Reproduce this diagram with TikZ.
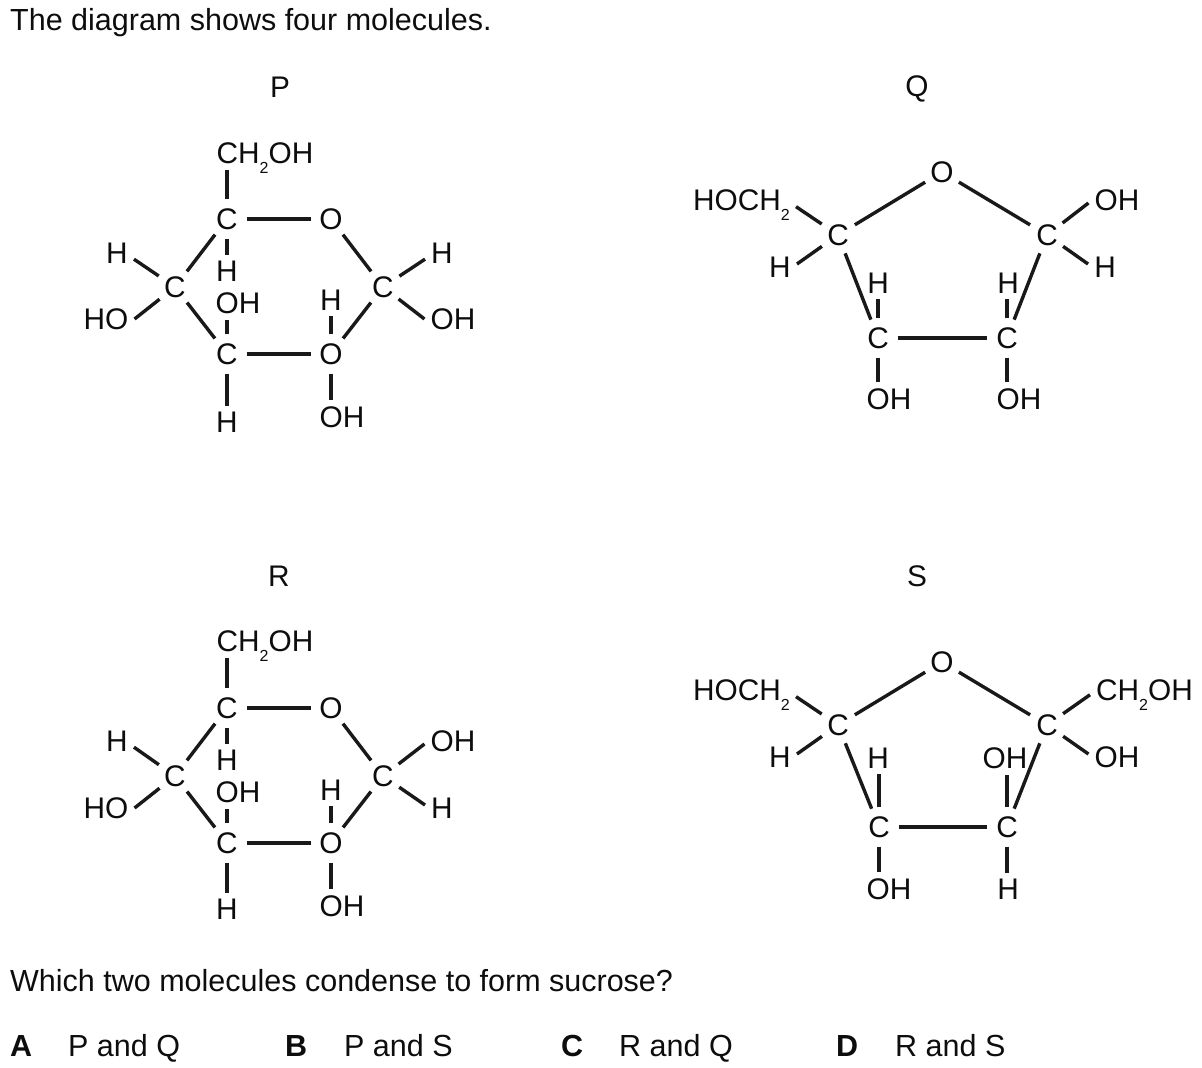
\documentclass[tikz,border=0pt]{standalone}
\usepackage{fontspec}
\setmainfont{Liberation Sans}
\newcommand{\bodyfont}{\fontsize{30.5}{36}\selectfont}
\newcommand{\chemfont}{\fontsize{29.8}{35}\selectfont}
\newcommand{\subtwo}{\smash{\raisebox{-10pt}{\fontsize{16}{18}\selectfont 2}}}
\tikzset{
  atom/.style={circle, inner sep=0pt, minimum size=39pt, font=\chemfont, text=black!95},
  lab/.style={inner sep=6pt, font=\chemfont, text=black!95},
  txt/.style={anchor=base west, inner sep=0pt, font=\bodyfont, text=black!95},
  bond/.style={line width=3.4pt, color=black!90}
}
\begin{document}
\begin{tikzpicture}[x=1pt, y=-1pt]
\useasboundingbox (0,0) rectangle (1202,1068);

% Question text
\node[txt] (title) at (10,30) {The diagram shows four molecules.};
\node[txt] (quest) at (10,991) {Which two molecules condense to form sucrose?};
\node[txt] (keya) at (10,1056) {\textbf{A}};
\node[txt] (ansa) at (68,1056) {P and Q};
\node[txt] (keyb) at (285,1056) {\textbf{B}};
\node[txt] (ansb) at (344,1056) {P and S};
\node[txt] (keyc) at (561,1056) {\textbf{C}};
\node[txt] (ansc) at (619,1056) {R and Q};
\node[txt] (keyd) at (836,1056) {\textbf{D}};
\node[txt] (ansd) at (895,1056) {R and S};

% Molecule P
\node[lab] (pname) at (280,87) {P};
\node[lab] (pch) at (265,153) {CH\subtwo OH};
\node[atom] (pct) at (227,219) {C};
\node[atom] (pot) at (331,219) {O};
\node[atom] (pcl) at (175,287) {C};
\node[atom] (pcr) at (383,287) {C};
\node[atom] (pcb) at (227,354) {C};
\node[atom] (pob) at (331,354) {O};
\node[lab] (phl) at (117,253) {H};
\node[lab] (phol) at (106,319) {HO};
\node[lab] (phr) at (442,253) {H};
\node[lab] (pohr) at (453,319) {OH};
\node[lab] (pht) at (227,271) {H};
\node[lab] (pohi) at (238,303) {OH};
\node[lab] (phi) at (331,300) {H};
\node[lab] (phb) at (227,422) {H};
\node[lab] (pohb) at (342,417) {OH};
\draw[bond] (pct) -- (pct |- pch.south);
\draw[bond] (pct) -- (pot);
\draw[bond] (pct) -- (pht);
\draw[bond] (pct) -- (pcl);
\draw[bond] (pot) -- (pcr);
\draw[bond] (pcr) -- (phr.200);
\draw[bond] (pcr) -- (pohr.west);
\draw[bond] (pcr) -- (pob);
\draw[bond] (pob) -- (phi);
\draw[bond] (pob) -- (pob |- pohb.north);
\draw[bond] (pcb) -- (pob);
\draw[bond] (pcb) -- (pcb |- pohi.south);
\draw[bond] (pcb) -- (phb);
\draw[bond] (pcl) -- (pcb);
\draw[bond] (pcl) -- (phl.-20);
\draw[bond] (pcl) -- (phol.east);

% Molecule R
\node[lab] (rname) at (279,576) {R};
\node[lab] (rch) at (265,641) {CH\subtwo OH};
\node[atom] (rct) at (227,708) {C};
\node[atom] (rot) at (331,708) {O};
\node[atom] (rcl) at (175,776) {C};
\node[atom] (rcr) at (383,776) {C};
\node[atom] (rcb) at (227,843) {C};
\node[atom] (rob) at (331,843) {O};
\node[lab] (rhl) at (117,741) {H};
\node[lab] (rhol) at (106,808) {HO};
\node[lab] (rohr) at (453,741) {OH};
\node[lab] (rhr) at (442,808) {H};
\node[lab] (rht) at (227,760) {H};
\node[lab] (rohi) at (238,792) {OH};
\node[lab] (rhi) at (331,790) {H};
\node[lab] (rhb) at (227,909) {H};
\node[lab] (rohb) at (342,906) {OH};
\draw[bond] (rct) -- (rct |- rch.south);
\draw[bond] (rct) -- (rot);
\draw[bond] (rct) -- (rht);
\draw[bond] (rct) -- (rcl);
\draw[bond] (rot) -- (rcr);
\draw[bond] (rcr) -- (rohr.186);
\draw[bond] (rcr) -- (rhr.170);
\draw[bond] (rcr) -- (rob);
\draw[bond] (rob) -- (rhi);
\draw[bond] (rob) -- (rob |- rohb.north);
\draw[bond] (rcb) -- (rob);
\draw[bond] (rcb) -- (rcb |- rohi.south);
\draw[bond] (rcb) -- (rhb);
\draw[bond] (rcl) -- (rcb);
\draw[bond] (rcl) -- (rhl.-20);
\draw[bond] (rcl) -- (rhol.east);

% Molecule Q
\node[lab] (qname) at (917,88.5) {Q};
\node[atom] (qo) at (942,172) {O};
\node[atom] (qcl) at (838,235) {C};
\node[atom] (qcr) at (1047,235) {C};
\node[atom] (qcm) at (878,338) {C};
\node[atom] (qcn) at (1007,338) {C};
\node[lab] (qhoch) at (741.5,200) {HOCH\subtwo};
\node[lab] (qhl) at (780,267) {H};
\node[lab] (qohr) at (1117,200) {OH};
\node[lab] (qhr) at (1105,267) {H};
\node[lab] (qhm) at (878,283) {H};
\node[lab] (qhn) at (1008,283) {H};
\node[lab] (qohm) at (889,399) {OH};
\node[lab] (qohn) at (1019,399) {OH};
\draw[bond] (qcl) -- (qo);
\draw[bond] (qo) -- (qcr);
\draw[bond] (qcl) -- (qhoch.-7);
\draw[bond] (qcl) -- (qhl.10);
\draw[bond] (qcl) -- (qcm);
\draw[bond] (qcm) -- (qhm);
\draw[bond] (qcm) -- (qcn);
\draw[bond] (qcm) -- (qcm |- qohm.north);
\draw[bond] (qcn) -- (qcr);
\draw[bond] (qcn) -- (qcn |- qhn.south);
\draw[bond] (qcn) -- (qcn |- qohn.north);
\draw[bond] (qcr) -- (qohr.186);
\draw[bond] (qcr) -- (qhr.170);

% Molecule S
\node[lab] (sname) at (917,576) {S};
\node[atom] (so) at (942,662) {O};
\node[atom] (scl) at (838,725) {C};
\node[atom] (scr) at (1047,725) {C};
\node[atom] (scm) at (879,827) {C};
\node[atom] (scn) at (1007,827) {C};
\node[lab] (shoch) at (741.5,690) {HOCH\subtwo};
\node[lab] (shl) at (780,757) {H};
\node[lab] (sch) at (1144.5,690) {CH\subtwo OH};
\node[lab] (sohr) at (1117,757) {OH};
\node[lab] (shm) at (878,758) {H};
\node[lab] (sohn) at (1005,758) {OH};
\node[lab] (sohm) at (889,889) {OH};
\node[lab] (shn) at (1008,889) {H};
\draw[bond] (scl) -- (so);
\draw[bond] (so) -- (scr);
\draw[bond] (scl) -- (shoch.-7);
\draw[bond] (scl) -- (shl.10);
\draw[bond] (scl) -- (scm);
\draw[bond] (scm) -- (scm |- shm.south);
\draw[bond] (scm) -- (scn);
\draw[bond] (scm) -- (scm |- sohm.north);
\draw[bond] (scn) -- (scr);
\draw[bond] (scn) -- (scn |- sohn.south);
\draw[bond] (scn) -- (scn |- shn.north);
\draw[bond] (scr) -- (sch.185);
\draw[bond] (scr) -- (sohr.174);
\end{tikzpicture}
\end{document}
